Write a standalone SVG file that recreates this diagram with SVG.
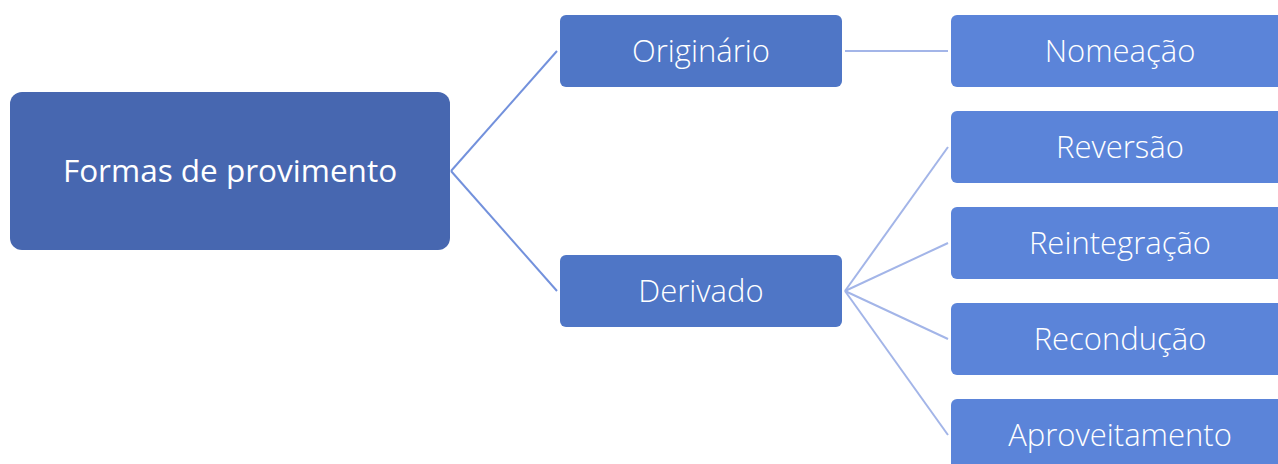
<svg xmlns="http://www.w3.org/2000/svg" width="1278" height="464" viewBox="0 0 1278 464">
<style>
.t{font-family:"Open Sans","Liberation Sans",sans-serif;fill:#fff;text-anchor:middle}
.l1{font-size:31.5px;font-weight:400}
.l2,.l3{font-size:31px;font-weight:300}
.c1{stroke:#7391dc;stroke-width:2;fill:none}
.c2{stroke:#a3b5e8;stroke-width:2;fill:none}
</style>
<rect width="1278" height="464" fill="#fff"/>
<g id="connectors">
<line class="c1" x1="451" y1="171" x2="557" y2="51"/>
<line class="c1" x1="451" y1="171" x2="557" y2="291"/>
<line class="c2" x1="845" y1="51" x2="948" y2="51"/>
<line class="c2" x1="845" y1="291" x2="948" y2="147"/>
<line class="c2" x1="845" y1="291" x2="948" y2="243"/>
<line class="c2" x1="845" y1="291" x2="948" y2="339"/>
<line class="c2" x1="845" y1="291" x2="948" y2="435"/>
</g>
<g id="root"><rect x="10" y="92" width="440" height="158" rx="12" fill="#4767b0"/><text class="t l1" x="230" y="182">Formas de provimento</text></g>
<g id="originario"><rect x="560" y="15" width="282" height="72" rx="6" fill="#4f76c6"/><text class="t l2" x="701" y="62">Originário</text></g>
<g id="derivado"><rect x="560" y="255" width="282" height="72" rx="6" fill="#4f76c6"/><text class="t l2" x="701" y="302">Derivado</text></g>
<g id="nomeacao"><rect x="951" y="15" width="340" height="72" rx="6" fill="#5b84d9"/><text class="t l3" x="1120" y="62">Nomeação</text></g>
<g id="reversao"><rect x="951" y="111" width="340" height="72" rx="6" fill="#5b84d9"/><text class="t l3" x="1120" y="158">Reversão</text></g>
<g id="reintegracao"><rect x="951" y="207" width="340" height="72" rx="6" fill="#5b84d9"/><text class="t l3" x="1120" y="254">Reintegração</text></g>
<g id="reconducao"><rect x="951" y="303" width="340" height="72" rx="6" fill="#5b84d9"/><text class="t l3" x="1120" y="350">Recondução</text></g>
<g id="aproveitamento"><rect x="951" y="399" width="340" height="72" rx="6" fill="#5b84d9"/><text class="t l3" x="1120" y="446">Aproveitamento</text></g>
</svg>
